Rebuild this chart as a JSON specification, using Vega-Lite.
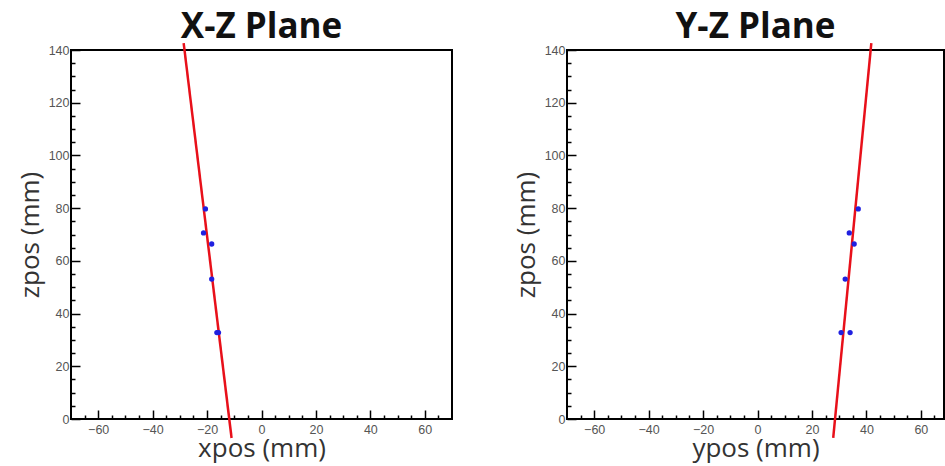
{
  "$schema": "https://vega.github.io/schema/vega-lite/v6.json",
  "padding": {"left": 16, "top": 9, "right": 0, "bottom": 0},
  "background": "white",
  "datasets": {
    "xz_hits": [
      {"x": -20.6, "z": 79.7},
      {"x": -21.3, "z": 70.6},
      {"x": -18.3, "z": 66.4},
      {"x": -18.3, "z": 53.1},
      {"x": -15.8, "z": 32.8},
      {"x": -16.4, "z": 32.8}
    ],
    "xz_fit": [
      {"x": -28.6, "z": 142.6},
      {"x": -11.0, "z": -7.2}
    ],
    "yz_hits": [
      {"y": 37.0, "z": 79.7},
      {"y": 33.7, "z": 70.6},
      {"y": 35.5, "z": 66.4},
      {"y": 32.2, "z": 53.1},
      {"y": 30.7, "z": 32.8},
      {"y": 34.0, "z": 32.8}
    ],
    "yz_fit": [
      {"y": 41.8, "z": 142.6},
      {"y": 27.8, "z": -7.2}
    ]
  },
  "spacing": 59,
  "hconcat": [
    {
      "width": 381,
      "height": 369,
      "title": {"text": "X-Z Plane", "fontSize": 35, "font": "Open Sans", "fontWeight": "bold", "color": "#111", "anchor": "middle", "offset": -7},
      "resolve": {"axis": {"x": "independent", "y": "independent"}},
      "layer": [
        {
          "data": {"name": "xz_fit"},
          "mark": {"type": "line", "color": "#e8101a", "strokeWidth": 2.5},
          "encoding": {
            "x": {"field": "x", "type": "quantitative", "scale": {"domain": [-70, 70], "nice": false, "zero": false},
              "axis": {"title": "xpos (mm)", "orient": "bottom", "values": [-60,-40,-20,0,20,40,60], "tickSize": -9, "labelPadding": 13, "titlePadding": 0}},
            "y": {"field": "z", "type": "quantitative", "scale": {"domain": [0, 140], "nice": false, "zero": false},
              "axis": {"title": "zpos (mm)", "orient": "left", "values": [0,20,40,60,80,100,120,140], "tickSize": -9, "labelPadding": 11, "titlePadding": 5}},
            "order": {"field": "z", "type": "quantitative"}
          }
        },
        {
          "data": {"name": "xz_hits"},
          "mark": {"type": "circle", "color": "#2020e0", "opacity": 1, "size": 28},
          "encoding": {
            "x": {"field": "x", "type": "quantitative",
              "axis": {"title": null, "orient": "bottom", "labels": false, "values": [-65,-55,-50,-45,-35,-30,-25,-15,-10,-5,5,10,15,25,30,35,45,50,55,65], "tickSize": -4}},
            "y": {"field": "z", "type": "quantitative",
              "axis": {"title": null, "orient": "left", "labels": false, "values": [5,10,15,25,30,35,45,50,55,65,70,75,85,90,95,105,110,115,125,130,135], "tickSize": -4}}
          }
        }
      ]
    },
    {
      "width": 377,
      "height": 369,
      "title": {"text": "Y-Z Plane", "fontSize": 35, "font": "Open Sans", "fontWeight": "bold", "color": "#111", "anchor": "middle", "offset": -7},
      "resolve": {"axis": {"x": "independent", "y": "independent"}},
      "layer": [
        {
          "data": {"name": "yz_fit"},
          "mark": {"type": "line", "color": "#e8101a", "strokeWidth": 2.5},
          "encoding": {
            "x": {"field": "y", "type": "quantitative", "scale": {"domain": [-70, 68.5], "nice": false, "zero": false},
              "axis": {"title": "ypos (mm)", "orient": "bottom", "values": [-60,-40,-20,0,20,40,60], "tickSize": -9, "labelPadding": 13, "titlePadding": 0}},
            "y": {"field": "z", "type": "quantitative", "scale": {"domain": [0, 140], "nice": false, "zero": false},
              "axis": {"title": "zpos (mm)", "orient": "left", "values": [0,20,40,60,80,100,120,140], "tickSize": -9, "labelPadding": 11, "titlePadding": 5}},
            "order": {"field": "z", "type": "quantitative"}
          }
        },
        {
          "data": {"name": "yz_hits"},
          "mark": {"type": "circle", "color": "#2020e0", "opacity": 1, "size": 28},
          "encoding": {
            "x": {"field": "y", "type": "quantitative",
              "axis": {"title": null, "orient": "bottom", "labels": false, "values": [-65,-55,-50,-45,-35,-30,-25,-15,-10,-5,5,10,15,25,30,35,45,50,55,65], "tickSize": -4}},
            "y": {"field": "z", "type": "quantitative",
              "axis": {"title": null, "orient": "left", "labels": false, "values": [5,10,15,25,30,35,45,50,55,65,70,75,85,90,95,105,110,115,125,130,135], "tickSize": -4}}
          }
        }
      ]
    }
  ],
  "config": {
    "view": {"stroke": "black", "strokeWidth": 2},
    "axis": {"domain": false, "grid": false, "labelFont": "Liberation Sans", "labelFontSize": 12.5, "labelColor": "#555",
      "labelOverlap": false, "labelFlush": false, "tickColor": "black", "tickWidth": 1.5,
      "titleFont": "Open Sans", "titleFontSize": 26, "titleFontWeight": "normal", "titleColor": "#333"}
  }
}
